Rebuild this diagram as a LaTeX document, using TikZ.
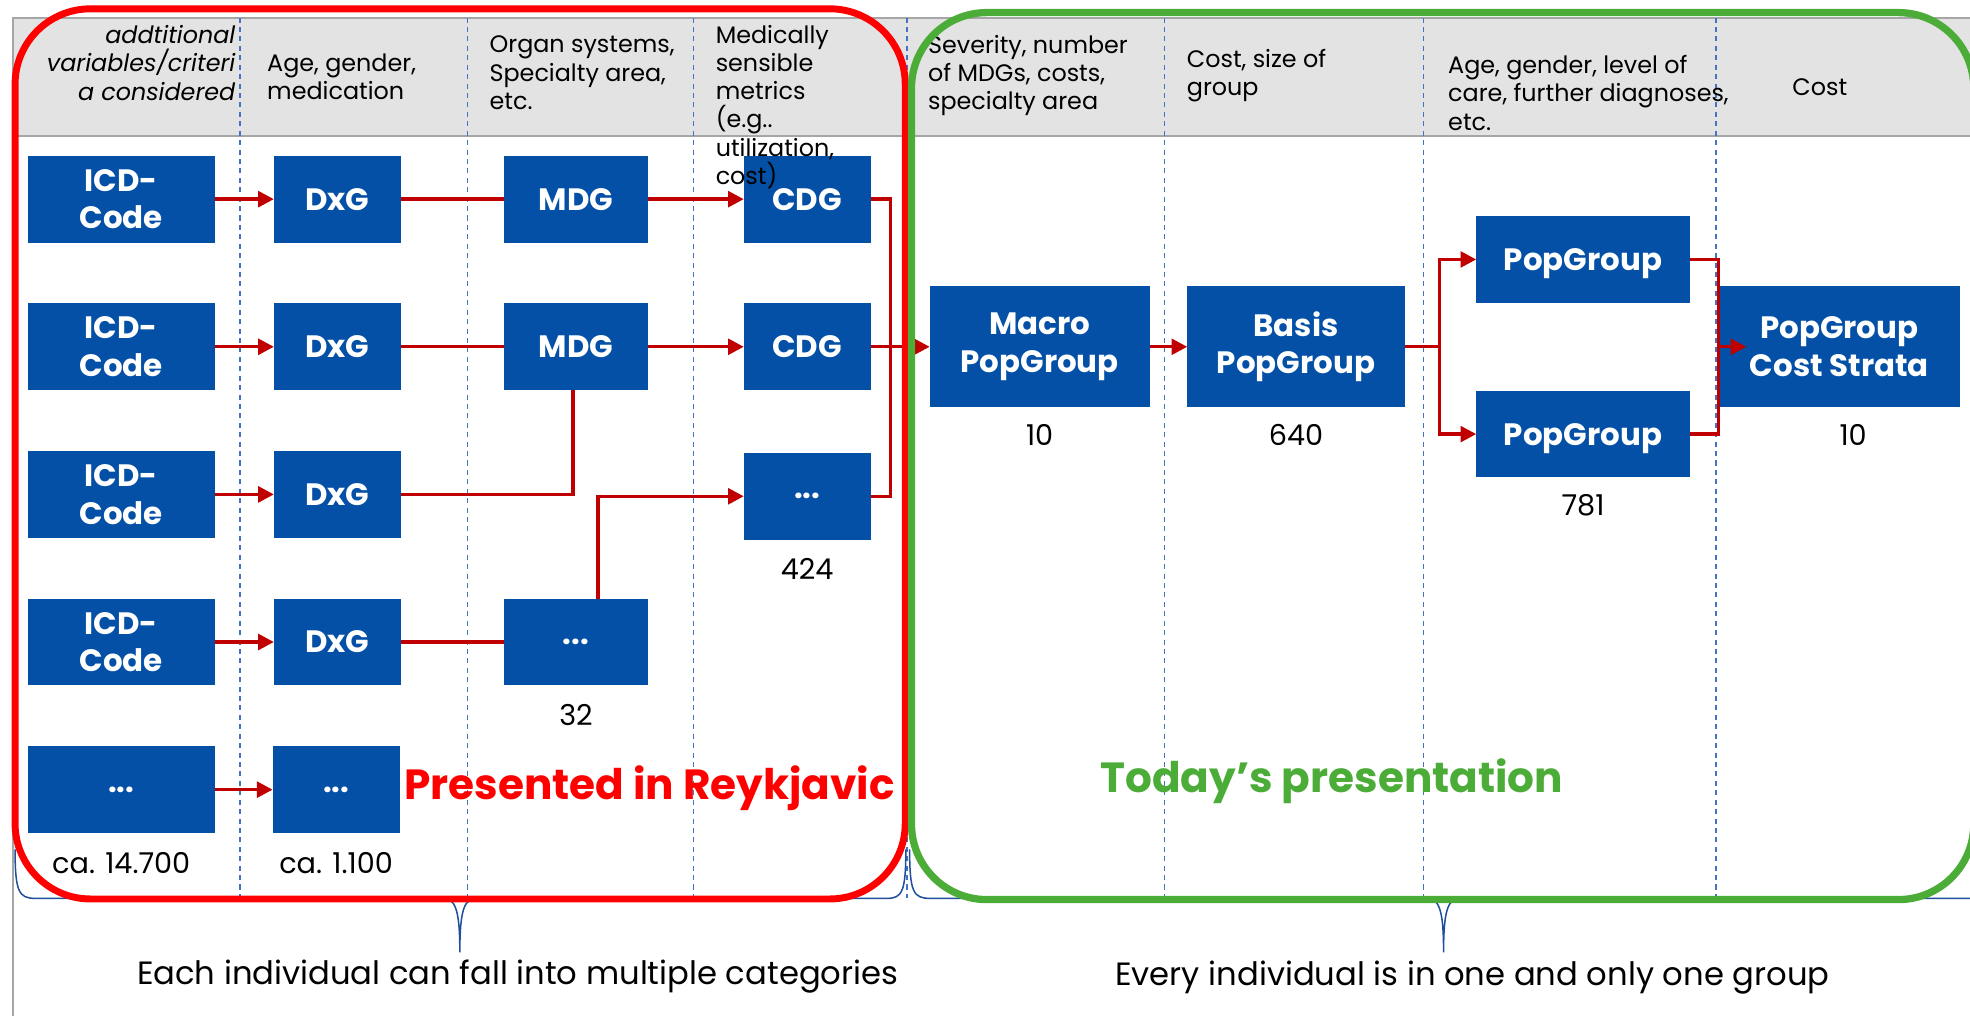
\documentclass[tikz,border=0pt]{standalone}
\usepackage{fontspec}
\setmainfont{Poppins}
\usepackage{xcolor}
\usepackage{tikz}
\usetikzlibrary{positioning,arrows.meta}
\definecolor{azul}{HTML}{0350A6}
\definecolor{rojo}{HTML}{FF0000}
\definecolor{rojoosc}{HTML}{C00000}
\definecolor{verde}{HTML}{4CAC38}
\definecolor{gris}{HTML}{A6A6A6}
\definecolor{grisclaro}{HTML}{E3E3E3}
\definecolor{celeste}{HTML}{4472C4}
\definecolor{marino}{HTML}{1F4E9C}

\begin{document}
\begin{tikzpicture}[x=0.1mm, y=-0.1mm,
  caja/.style={fill=azul, text=white, font=\fontsize{7}{8.5}\selectfont\bfseries, align=center,
               inner sep=0pt, outer sep=0pt, minimum width=#1, minimum height=6.9mm},
  cajagrande/.style={caja=#1, minimum height=9.6mm},
  cabecera/.style={font=\fontsize{5.4}{6.4}\selectfont, align=left, inner sep=0pt, anchor=west},
  cifra/.style={font=\fontsize{6.5}{7}\selectfont, inner sep=0pt},
  nota/.style={font=\fontsize{7.3}{8}\selectfont, inner sep=0pt},
  titulo/.style={font=\fontsize{9.55}{11}\selectfont\bfseries, inner sep=0pt},
  linea/.style={rojoosc, line width=0.27mm},
  flecha/.style={linea, -{Triangle[length=1.25mm, width=1.25mm]}},
  divisor/.style={celeste, line width=0.12mm, dash pattern=on 0.4mm off 0.35mm}
]
  \useasboundingbox (0,0) rectangle (1568,809);
  \fill[grisclaro] (10,14) rectangle (1570,108);
  \draw[gris, line width=0.15mm] (1570,14) -- (10,14) -- (10,809);
  \draw[gris, line width=0.15mm] (10,108) -- (1570,108);
  \draw[divisor] (191,14) -- (191,715);
  \draw[divisor] (372,14) -- (372,715);
  \draw[divisor] (552,14) -- (552,715);
  \draw[divisor] (722,14) -- (722,715);
  \draw[divisor] (927,14) -- (927,715);
  \draw[divisor] (1133,14) -- (1133,715);
  \draw[divisor] (1366,14) -- (1366,715);

  \node[caja=14.9mm] (icd1) at (96.5,158.5) {ICD-\\Code};
  \node[caja=14.9mm, below=4.85mm of icd1] (icd2) {ICD-\\Code};
  \node[caja=14.9mm, below=4.85mm of icd2] (icd3) {ICD-\\Code};
  \node[caja=14.9mm, below=4.85mm of icd3] (icd4) {ICD-\\Code};
  \node[caja=14.9mm, below=4.85mm of icd4] (icd5) {...};
  \node[caja=10.1mm, right=4.7mm of icd1] (dxg1) {DxG};
  \node[caja=10.1mm, right=4.7mm of icd2] (dxg2) {DxG};
  \node[caja=10.1mm, right=4.7mm of icd3] (dxg3) {DxG};
  \node[caja=10.1mm, right=4.7mm of icd4] (dxg4) {DxG};
  \node[caja=10.1mm, right=4.6mm of icd5] (dxg5) {...};
  \node[caja=11.5mm, right=8.2mm of dxg1] (mdg1) {MDG};
  \node[caja=11.5mm, right=8.2mm of dxg2] (mdg2) {MDG};
  \node[caja=11.5mm, right=8.2mm of dxg4] (mdg3) {...};
  \node[caja=10.1mm, right=7.6mm of mdg1] (cdg1) {CDG};
  \node[caja=10.1mm, right=7.6mm of mdg2] (cdg2) {CDG};
  \node[caja=10.1mm, below=5mm of cdg2] (cdg3) {...};
  \node[cajagrande=17.5mm, right=4.7mm of cdg2] (macro) {Macro\\PopGroup};
  \node[cajagrande=17.3mm, right=3mm of macro] (basis) {Basis\\PopGroup};
  \node[caja=17mm, text depth=0pt, right=5.7mm of basis, yshift=6.95mm] (pop1) {PopGroup};
  \node[caja=17mm, text depth=0pt, right=5.7mm of basis, yshift=-6.95mm] (pop2) {PopGroup};
  \node[cajagrande=19.2mm, right=25mm of basis] (estrato) {PopGroup\\Cost Strata};

  \node[cabecera, anchor=east, align=right, font=\fontsize{5.4}{6.4}\selectfont\itshape] (cab1) at (188,50)
    {addtitional\\variables/criteri\\a considered};
  \node[cabecera] (cab2) at (212,61) {Age, gender,\\medication};
  \node[cabecera] (cab3) at (389,58) {Organ systems,\\Specialty area,\\etc.};
  \node[cabecera] (cab4) at (569,85) {Medically\\sensible\\metrics\\(e.g..\\utilization,\\cost)};
  \node[cabecera] (cab5) at (738,60) {Severity, number\\of MDGs, costs,\\specialty area};
  \node[cabecera] (cab6) at (944,60) {Cost, size of\\group};
  \node[cabecera] (cab7) at (1152,74) {Age, gender, level of\\care, further diagnoses,\\etc.};
  \node[cabecera] (cab8) at (1426,69) {Cost};

  \node[cifra, below=1.45mm of icd5] (n1) {ca. 14.700};
  \node[cifra, below=1.45mm of dxg5] (n2) {ca. 1.100};
  \node[cifra, below=1.45mm of mdg3] (n3) {32};
  \node[cifra, below=1.45mm of cdg3] (n4) {424};
  \node[cifra, below=1.3mm of macro] (n5) {10};
  \node[cifra, below=1.3mm of basis] (n6) {640};
  \node[cifra, below=1.25mm of pop2] (n7) {781};
  \node[cifra, below=1.3mm of estrato, xshift=1.1mm] (n8) {10};

  \draw[flecha] (icd1) -- (dxg1);
  \draw[flecha] (icd2) -- (dxg2);
  \draw[flecha] (icd3) -- (dxg3);
  \draw[flecha] (icd4) -- (dxg4);
  \draw[flecha] (icd5) -- (dxg5);
  \draw[linea] (dxg1) -- (mdg1);
  \draw[linea] (dxg2) -- (mdg2);
  \draw[linea] (dxg3.east) -| ([xshift=-0.25mm]mdg2.south);
  \draw[linea] (dxg4) -- (mdg3);
  \draw[flecha] (mdg1) -- (cdg1);
  \draw[flecha] (mdg2) -- (cdg2);
  \draw[flecha] ([xshift=1.75mm]mdg3.north) |- (cdg3.west);
  \coordinate[right=1.6mm of cdg2.east] (junta1);
  \draw[linea] (cdg1.east) -| (junta1) |- (cdg3.east);
  \draw[linea] (cdg2.east) -- (junta1);
  \draw[flecha] (junta1) -- (macro.west);
  \draw[flecha] (macro) -- (basis);
  \coordinate[right=2.8mm of basis.east] (junta2);
  \draw[linea] (basis) -- (junta2);
  \draw[flecha] (junta2) |- (pop1.west);
  \draw[flecha] (junta2) |- (pop2.west);
  \draw[linea] (pop1.east) -| (estrato.west) |- (pop2.east);
  \coordinate[right=2.2mm of estrato.west] (punta);
  \draw[flecha] (estrato.west) -- (punta);

  \draw[marino, line width=0.12mm] (12,676) .. controls (12,710) and (15,715) .. (28,715) -- (352,715)
    .. controls (362,715) and (366,722) .. (366,758) .. controls (366,722) and (370,715) .. (380,715)
    -- (706,715) .. controls (718,715) and (721,710) .. (721,676);
  \draw[marino, line width=0.12mm] (724,676) .. controls (724,710) and (727,715) .. (740,715) -- (1135,715)
    .. controls (1145,715) and (1149,722) .. (1149,758) .. controls (1149,722) and (1153,715) .. (1163,715)
    -- (1590,715);

  \draw[rojo, line width=0.55mm, rounded corners=6mm] (12,7) rectangle (720.5,715.5);
  \draw[verde, line width=0.58mm, rounded corners=6mm] (725.5,10) rectangle (1571,716);

  \node[titulo, text=rojo] (titrojo) at (517,627) {Presented in Reykjavic};
  \node[titulo, text=verde] (titverde) at (1060,622) {Today’s presentation};
  \node[nota] (nota1) at (412,777) {Each individual can fall into multiple categories};
  \node[nota] (nota2) at (1172,778) {Every individual is in one and only one group};
\end{tikzpicture}
\end{document}
